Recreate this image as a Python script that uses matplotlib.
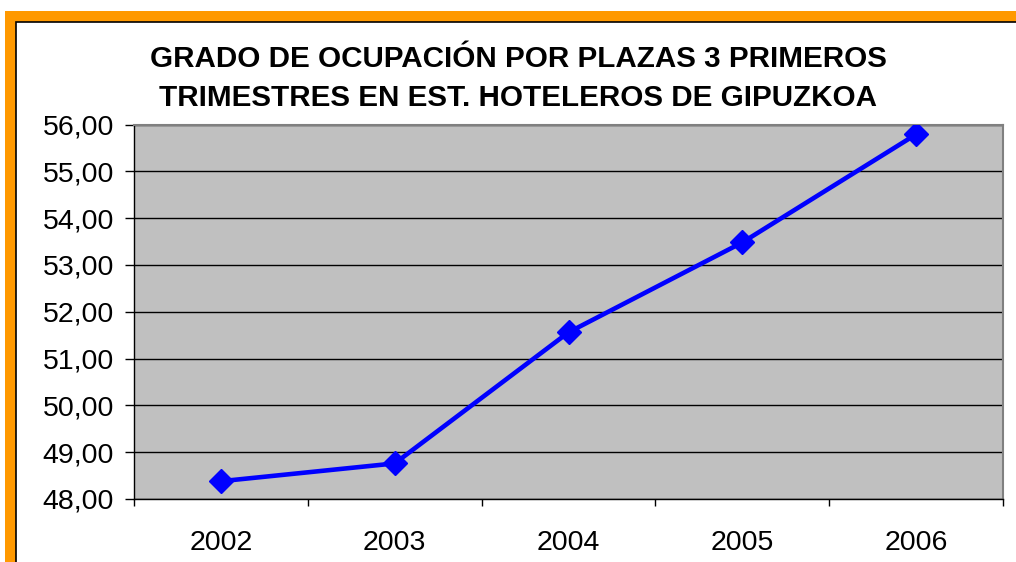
import matplotlib.pyplot as plt
from matplotlib.patches import Rectangle
from matplotlib.ticker import FuncFormatter, MultipleLocator

plt.rcParams["font.family"] = ["Liberation Sans", "DejaVu Sans"]

# ── Data ──────────────────────────────────────────────────────────────────────
years = ["2002", "2003", "2004", "2005", "2006"]
ocupacion = [48.38, 48.76, 51.56, 53.48, 55.79]

TITLE = ("GRADO DE OCUPACIÓN POR PLAZAS 3 PRIMEROS\n"
         "TRIMESTRES EN EST. HOTELEROS DE GIPUZKOA")

W, H = 1016, 562
fig = plt.figure(figsize=(W / 100, H / 100), dpi=100)

# orange chart frame (cut off at right/bottom)
fig.patches.append(Rectangle((5 / W, -1), 2, 2 - 11 / H, transform=fig.transFigure,
                             facecolor="#FF9900", edgecolor="none", zorder=-3))
fig.patches.append(Rectangle((15.5 / W, -1), 2, 2 - 21.5 / H,
                             transform=fig.transFigure, facecolor="white",
                             edgecolor="black", lw=1.2, zorder=-2))

ax = fig.add_axes([134 / W, 1 - 499 / H, (1003 - 134) / W, (499 - 124.5) / H])
ax.set_zorder(1)
ax.set_facecolor("#C0C0C0")

x = list(range(len(years)))
ax.plot(x, ocupacion, color="#0000FF", lw=3.3, marker="D", ms=12,
        markeredgecolor="#0000FF", zorder=3)

ax.set_xlim(-0.5, len(years) - 0.5)
ax.set_ylim(48, 56)
ax.yaxis.set_major_locator(MultipleLocator(1))
ax.yaxis.set_major_formatter(FuncFormatter(lambda v, _: f"{v:.2f}".replace(".", ",")))
ax.grid(axis="y", color="black", lw=1)
ax.set_axisbelow(True)

ax.set_xticks(x)
ax.set_xticklabels(years)
ax.set_xticks([i - 0.5 for i in range(len(years) + 1)], minor=True)
ax.tick_params(axis="x", which="major", length=0, pad=22, labelsize=20.5)
ax.tick_params(axis="x", which="minor", length=5, width=1, direction="out")
ax.tick_params(axis="y", length=6.5, width=1, pad=8, labelsize=20.5)

for side in ("top", "right"):
    ax.spines[side].set_color("#808080")
    ax.spines[side].set_linewidth(1.5)
for side in ("left", "bottom"):
    ax.spines[side].set_color("black")
    ax.spines[side].set_linewidth(1)

fig.text(518 / W, 1 - 79 / H, TITLE, ha="center", va="center",
         fontsize=21.3, fontweight="bold", linespacing=1.5)

fig.savefig("out.png", dpi=100)
